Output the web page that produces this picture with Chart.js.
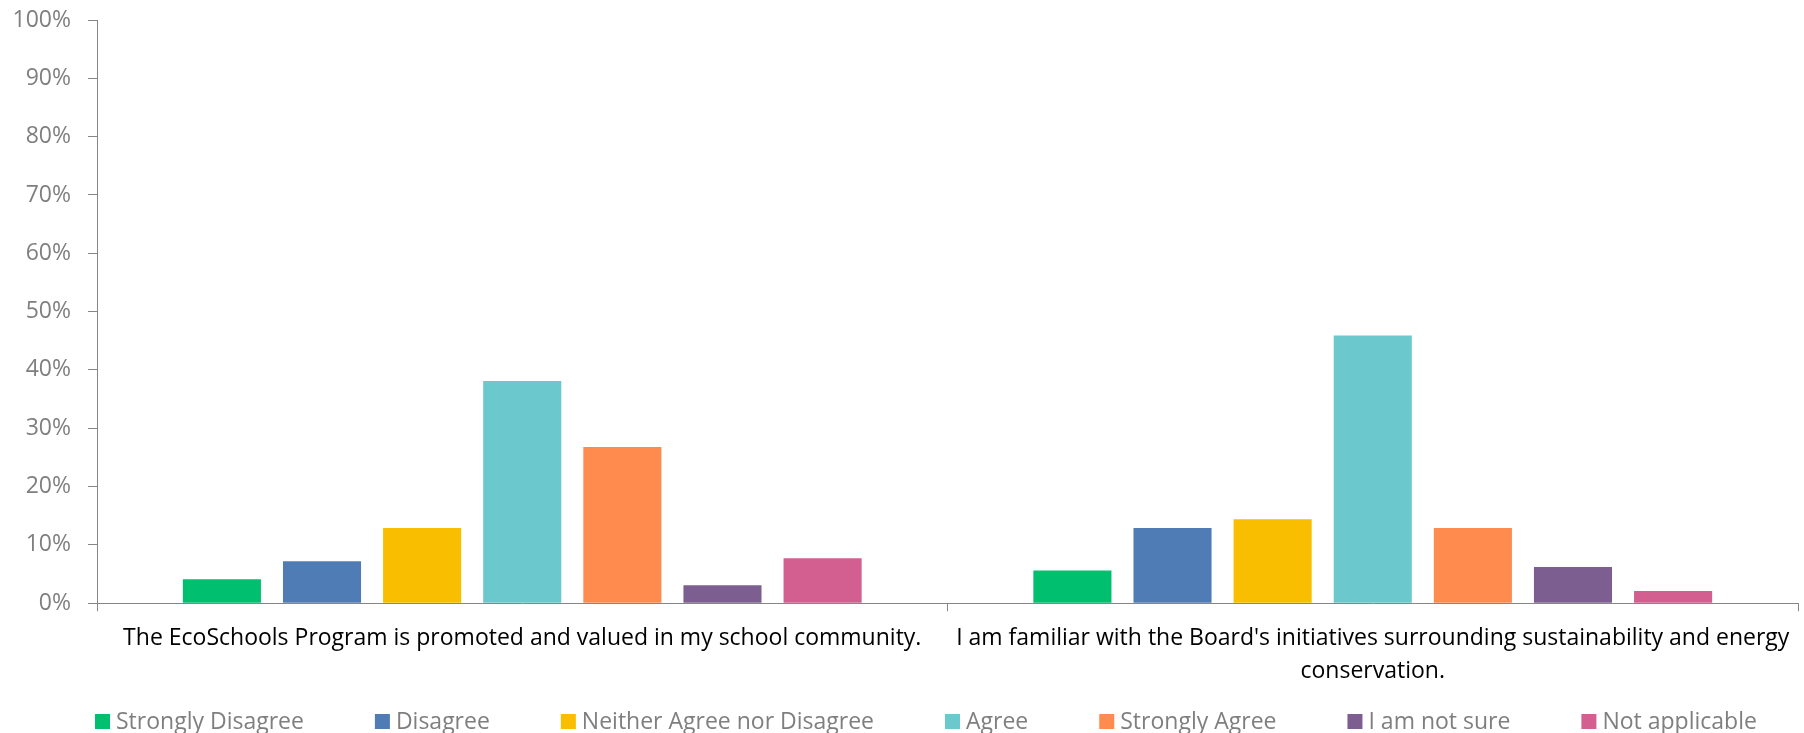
<!DOCTYPE html>
<html>
<head>
<meta charset="utf-8">
<title>EcoSchools survey</title>
<script src="https://cdn.jsdelivr.net/npm/chart.js@4.4.1/dist/chart.umd.min.js"></script>
<style>
  html, body { margin: 0; padding: 0; background: #fff; }
  #wrap { position: relative; width: 1804px; height: 733px; }
</style>
</head>
<body>
<div id="wrap"><canvas id="chart"></canvas></div>
<script>
// survey statements (x categories)
const questions = [
  'The EcoSchools Program is promoted and valued in my school community.',
  ["I am familiar with the Board's initiatives surrounding sustainability and energy", 'conservation.']
];

// answer options, one dataset each
const answers = [
  'Strongly Disagree',
  'Disagree',
  'Neither Agree nor Disagree',
  'Agree',
  'Strongly Agree',
  'I am not sure',
  'Not applicable'
];

// percent of respondents per answer
const promotedPct = [4.1, 7.2, 12.9, 38.1, 26.8, 3.1, 7.7];
const familiarPct = [5.6, 12.9, 14.4, 45.9, 12.9, 6.2, 2.1];

const answerColors = ['#00bf6f', '#507cb6', '#f9be00', '#6bc8cd', '#ff8b4f', '#7d5e90', '#d25f90'];

const yMax = 100;
const yStep = 10;

const FONT = "'Open Sans', sans-serif";
const axisGray = '#868686';
const textGray = '#7f7f7f';

const datasets = answers.map((label, i) => ({
  label,
  data: [promotedPct[i], familiarPct[i]],
  backgroundColor: answerColors[i],
  borderWidth: 0,
  categoryPercentage: 0.824,
  barPercentage: 0.78
}));

// legend drawn by hand so the spacing between entries can be wide
const bottomLegend = {
  id: 'bottomLegend',
  afterDraw(chart) {
    const ctx = chart.ctx;
    const box = 15;
    const textGap = 6;
    const itemGap = 71;
    const y = chart.height - 11.5;
    let x = chart.chartArea.left - 2;
    ctx.save();
    ctx.font = '23px ' + FONT;
    ctx.textBaseline = 'middle';
    ctx.textAlign = 'left';
    answers.forEach((label, i) => {
      ctx.fillStyle = answerColors[i];
      ctx.fillRect(x, y - box / 2, box, box);
      x += box + textGap;
      ctx.fillStyle = textGray;
      ctx.fillText(label, x, y + 1);
      x += ctx.measureText(label).width + itemGap;
    });
    ctx.restore();
  }
};

new Chart(document.getElementById('chart'), {
  type: 'bar',
  data: { labels: questions, datasets },
  plugins: [bottomLegend],
  options: {
    responsive: true,
    maintainAspectRatio: false,
    animation: false,
    layout: { padding: { left: 0, right: 6, top: 20, bottom: 34 } },
    plugins: {
      legend: { display: false },
      tooltip: { enabled: false }
    },
    scales: {
      x: {
        afterFit(scale) {
          scale.paddingLeft = 0;
          scale.paddingRight = 0;
        },
        grid: { display: true, drawOnChartArea: false, offset: true, tickLength: 8, color: axisGray },
        border: { color: axisGray, width: 1 },
        ticks: {
          color: '#000000',
          padding: 11,
          maxRotation: 0,
          autoSkip: false,
          font: { family: FONT, size: 23, lineHeight: 1.43 }
        }
      },
      y: {
        min: 0,
        max: yMax,
        afterFit(scale) {
          scale.width = 97;
          scale.paddingTop = 0;
          scale.paddingBottom = 0;
        },
        grid: { display: true, drawOnChartArea: false, tickLength: 9, color: axisGray },
        border: { color: axisGray, width: 1 },
        ticks: {
          stepSize: yStep,
          color: textGray,
          padding: 17,
          font: { family: FONT, size: 23 },
          callback: v => v + '%'
        }
      }
    }
  }
});
</script>
</body>
</html>
